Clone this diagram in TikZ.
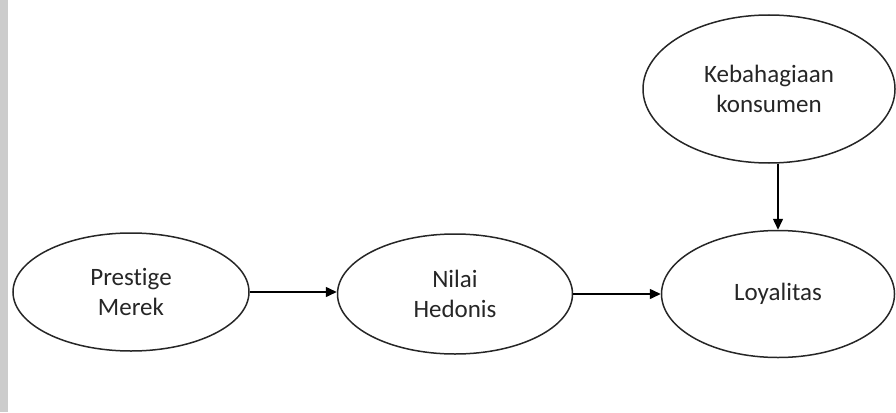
\documentclass[tikz,border=0pt]{standalone}
\usepackage{fontspec}
\setmainfont{Carlito}[RawFeature=-liga]
\usetikzlibrary{shapes.geometric,arrows.meta}
\begin{document}
\begin{tikzpicture}[x=1pt,y=-1pt,
  var/.style={ellipse,draw=black!85,line width=1.5pt,inner sep=0pt,align=center,
    font=\fontsize{25}{30}\selectfont,text=black!85},
  link/.style={draw=black,line width=1.5pt,-{Triangle[length=11pt,width=10pt]}}]
\useasboundingbox (0,0) rectangle (896,412);
\fill[black!20] (0,0) rectangle (8,412);
\node[var,minimum width=236pt,minimum height=118pt] (pm) at (131,292) {Prestige\\Merek};
\node[var,minimum width=235pt,minimum height=120pt] (nh) at (455,294) {Nilai\\Hedonis};
\node[var,minimum width=233pt,minimum height=127pt] (ly) at (778,294) {Loyalitas};
\node[var,minimum width=252pt,minimum height=148pt] (kb) at (769,89) {Kebahagiaan\\konsumen};
\draw[link] (pm.east) -- (pm.east -| nh.west);
\draw[link] (nh.east) -- (nh.east -| ly.west);
\draw[link] (ly.north |- kb.south) -- (ly.north);
\end{tikzpicture}
\end{document}
